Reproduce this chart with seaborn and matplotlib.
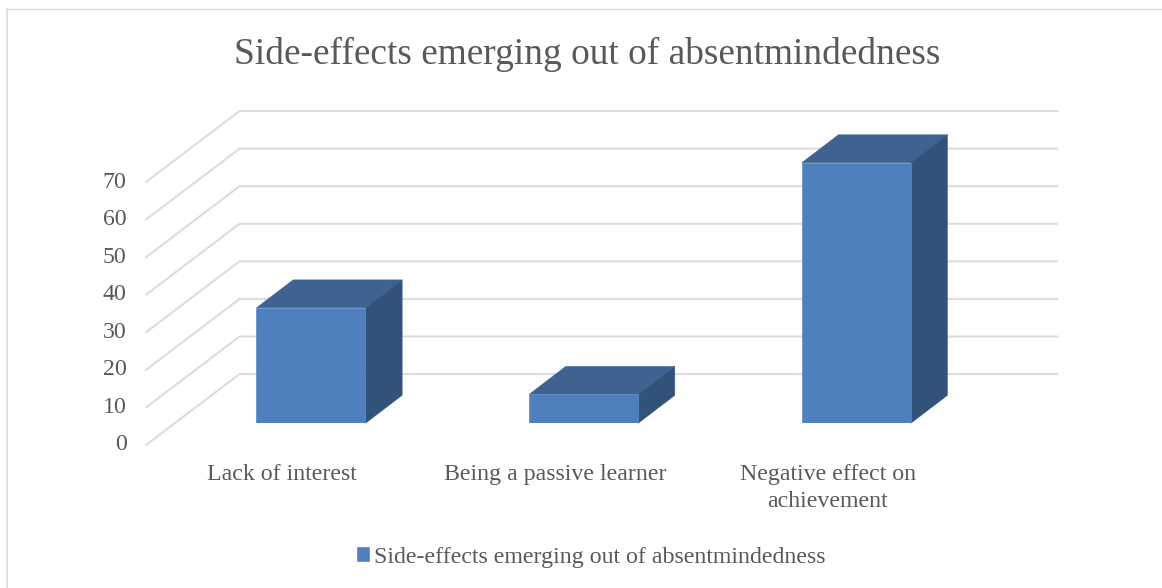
import matplotlib
matplotlib.use("Agg")
import matplotlib.pyplot as plt
from matplotlib.lines import Line2D
from matplotlib.patches import Polygon
from matplotlib.transforms import ScaledTranslation
import seaborn as sns

# Survey results
series_name = "Side-effects emerging out of absentmindedness"
categories = ["Lack of interest", "Being a passive learner", "Negative effect on\nachievement"]
values = [30.7, 7.7, 69.3]
y_ticks = [0, 10, 20, 30, 40, 50, 60, 70]

W, H = 1162, 588
FRONT = "#4f80bd"
TOP = "#3e6390"
SIDE = "#325379"
GRID = "#dcdcdc"
TEXT = "#595959"
LABEL_SIZE = 17.2

sns.set_theme(style="white")
plt.rcParams["font.family"] = ["Liberation Serif", "DejaVu Serif"]

fig = plt.figure(figsize=(W / 100, H / 100), dpi=100, facecolor="white")


def place(left, right, top, bottom):
    """Axes rectangle from pixel edges measured from the top-left corner."""
    return [left / W, 1 - bottom / H, (right - left) / W, (bottom - top) / H]


# Floor-front plane carries the axis labels and the receding gridlines
wall = fig.add_axes(place(146, 964, 182, 445))
wall.set_xlim(-0.5, 2.5)
wall.set_ylim(0, 70)
wall.patch.set_alpha(0)
for s in wall.spines.values():
    s.set_visible(False)
wall.set_xticks(range(len(categories)), categories)
wall.set_yticks(y_ticks)
wall.tick_params(axis="y", length=0, pad=14, labelsize=LABEL_SIZE, labelcolor=TEXT)
wall.tick_params(axis="x", length=0, pad=13.5, labelsize=LABEL_SIZE, labelcolor=TEXT)
for lab in wall.get_xticklabels():
    lab.set_linespacing(1.42)
# Value labels sit slightly above the line ends
raise_labels = ScaledTranslation(0, 2.5 / 100, fig.dpi_scale_trans)
for lab in wall.get_yticklabels():
    lab.set_transform(lab.get_transform() + raise_labels)

# Gridlines run from the front edge to the back wall, then across it
wall_dx, wall_dy = 93.5 / (818 / 3), 71 / 3.76
for v in y_ticks:
    wall.plot([-0.5, -0.5 + wall_dx, 2.5 + wall_dx], [v, v + wall_dy, v + wall_dy],
              color=GRID, lw=1.5, clip_on=False, solid_joinstyle="miter")

# Bars stand on a plane set back from the front edge
ax = fig.add_axes(place(174.6, 992.6, 160.1, 423.3))
ax.patch.set_alpha(0)
sns.barplot(x=categories, y=values, color=FRONT, saturation=1, width=0.4,
            label=series_name, ax=ax, legend=False)
ax.set_xlim(-0.5, 2.5)
ax.set_ylim(0, 70)
ax.set_axis_off()

bar_dx, bar_dy = 36.7 / (818 / 3), 28 / 3.76
for bar in ax.patches:
    x0, x1 = bar.get_x(), bar.get_x() + bar.get_width()
    h = bar.get_height()
    bar.set_edgecolor("#5a8ac6")
    bar.set_linewidth(0.5)
    bar.set_zorder(3)
    ax.add_patch(Polygon([(x0, h), (x1, h), (x1 + bar_dx, h + bar_dy), (x0 + bar_dx, h + bar_dy)],
                         closed=True, facecolor=TOP, edgecolor=TOP, lw=0.3, clip_on=False, zorder=2))
    ax.add_patch(Polygon([(x1, 0), (x1 + bar_dx, bar_dy), (x1 + bar_dx, h + bar_dy), (x1, h)],
                         closed=True, facecolor=SIDE, edgecolor=SIDE, lw=0.3, clip_on=False, zorder=2))

fig.text(587 / W, 1 - 54 / H, series_name, ha="center", va="center",
         fontsize=26.9, color=TEXT)

handles = [bar for bar in ax.patches[:1]]
fig.legend(handles, [series_name], loc="center", bbox_to_anchor=(591.5 / W, 1 - 557 / H),
           frameon=False, fontsize=LABEL_SIZE, labelcolor=TEXT, handlelength=0.5,
           handleheight=0.5, handletextpad=0.2)

# Chart border, visible along the top and left only
fig.add_artist(Line2D([7 / W, 7 / W], [0, 1 - 9 / H], color=GRID, lw=1.2))
fig.add_artist(Line2D([7 / W, 1], [1 - 9 / H, 1 - 9 / H], color=GRID, lw=1.0))

fig.savefig("out.png", dpi=100, facecolor="white")
